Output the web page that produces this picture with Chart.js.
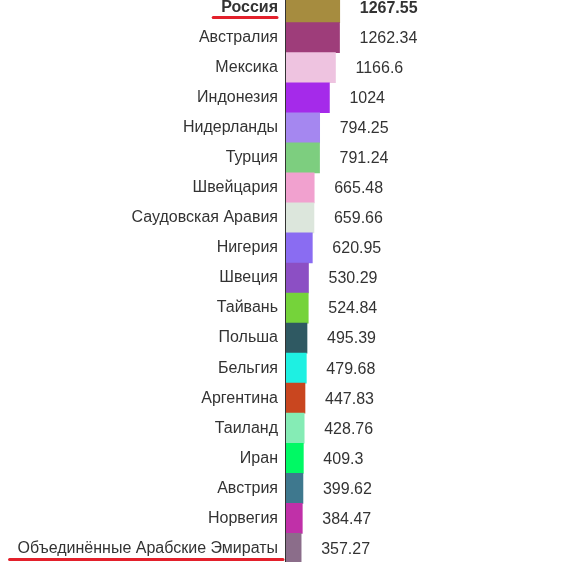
<!DOCTYPE html>
<html>
<head>
<meta charset="utf-8">
<script src="https://cdn.jsdelivr.net/npm/chart.js@4.4.0/dist/chart.umd.min.js"></script>
<style>
  html, body { margin: 0; padding: 0; background: #fff; overflow: hidden; }
  #wrap { position: relative; width: 568px; height: 590px; margin-top: -17px; }
</style>
</head>
<body>
<div id="wrap"><canvas id="chart"></canvas></div>
<script>
const countries = ['Россия', 'Австралия', 'Мексика', 'Индонезия', 'Нидерланды', 'Турция', 'Швейцария',
    'Саудовская Аравия', 'Нигерия', 'Швеция', 'Тайвань', 'Польша', 'Бельгия', 'Аргентина',
    'Таиланд', 'Иран', 'Австрия', 'Норвегия', 'Объединённые Арабские Эмираты']
const values = [1267.55, 1262.34, 1166.6, 1024, 794.25, 791.24, 665.48, 659.66, 620.95, 530.29,
    524.84, 495.39, 479.68, 447.83, 428.76, 409.3, 399.62, 384.47, 357.27]
const valueLabels = ['1267.55', '1262.34', '1166.6', '1024', '794.25', '791.24', '665.48', '659.66',
    '620.95', '530.29', '524.84', '495.39', '479.68', '447.83', '428.76', '409.3', '399.62', '384.47', '357.27']
const barColors = ['#a68c3f', '#9e3d7a', '#eec3e0', '#a52aea', '#a587f0', '#7dce7f', '#f1a1cf',
    '#dce6dc', '#8a6cf2', '#8c4fc4', '#75d33a', '#2f5962', '#1ef0e2', '#c9461f', '#85ecb5',
    '#00f964', '#3e788e', '#c030a8', '#8b6d8a']
const highlighted = 0            // current country, bold
// red strokes under names: [index, extra left, extra right, drop below centre]
const underlined = [[0, 8, -1, 10], [18, 8, 5, 11]]

const FONT = '"Liberation Sans", Arial, sans-serif'
const SIZE = 16

// value text to the right of every bar
const valueText = {
    id: 'valueText',
    afterDatasetsDraw(chart) {
        const ctx = chart.ctx
        const meta = chart.getDatasetMeta(0)
        ctx.save()
        ctx.fillStyle = '#333'
        ctx.textBaseline = 'middle'
        meta.data.forEach((bar, i) => {
            ctx.font = (i === highlighted ? 'bold ' : '') + SIZE + 'px ' + FONT
            ctx.fillText(valueLabels[i], bar.x + 20, bar.y + 1)
        })
        ctx.restore()
    }
}

// red underline marks under some names
const redLines = {
    id: 'redLines',
    afterDraw(chart) {
        const ctx = chart.ctx
        const y = chart.scales.y
        const right = y.right - 8
        ctx.save()
        ctx.strokeStyle = '#e3202b'
        ctx.lineWidth = 3
        ctx.lineCap = 'round'
        underlined.forEach(([i, l, r, d]) => {
            ctx.font = (i === highlighted ? 'bold ' : '') + SIZE + 'px ' + FONT
            const w = ctx.measureText(countries[i]).width
            const cy = y.getPixelForTick(i) + d
            ctx.beginPath()
            ctx.moveTo(right - w - l, cy)
            ctx.lineTo(right + r, cy)
            ctx.stroke()
        })
        ctx.restore()
    }
}

new Chart(document.querySelector('#chart'), {
    type: 'bar',
    data: {
        labels: countries,
        datasets: [{
            data: values,
            backgroundColor: barColors,
            borderWidth: 0,
            barPercentage: 1,
            categoryPercentage: 1
        }]
    },
    options: {
        indexAxis: 'y',
        responsive: true,
        maintainAspectRatio: false,
        animation: false,
        devicePixelRatio: 1,
        layout: { padding: 0 },
        plugins: {
            legend: { display: false },
            tooltip: { enabled: false }
        },
        scales: {
            x: {
                display: false,
                min: 0,
                max: 6650
            },
            y: {
                z: 1,
                grid: { display: false },
                border: { display: true, color: '#333', width: 2 },
                ticks: {
                    color: '#333',
                    padding: 0,
                    autoSkip: false,
                    font: ctx => ({
                        family: FONT,
                        size: SIZE,
                        weight: ctx.index === highlighted ? 'bold' : 'normal'
                    })
                },
                afterFit(scale) {
                    scale.width = 286
                }
            }
        }
    },
    plugins: [valueText, redLines]
})
</script>
</body>
</html>
